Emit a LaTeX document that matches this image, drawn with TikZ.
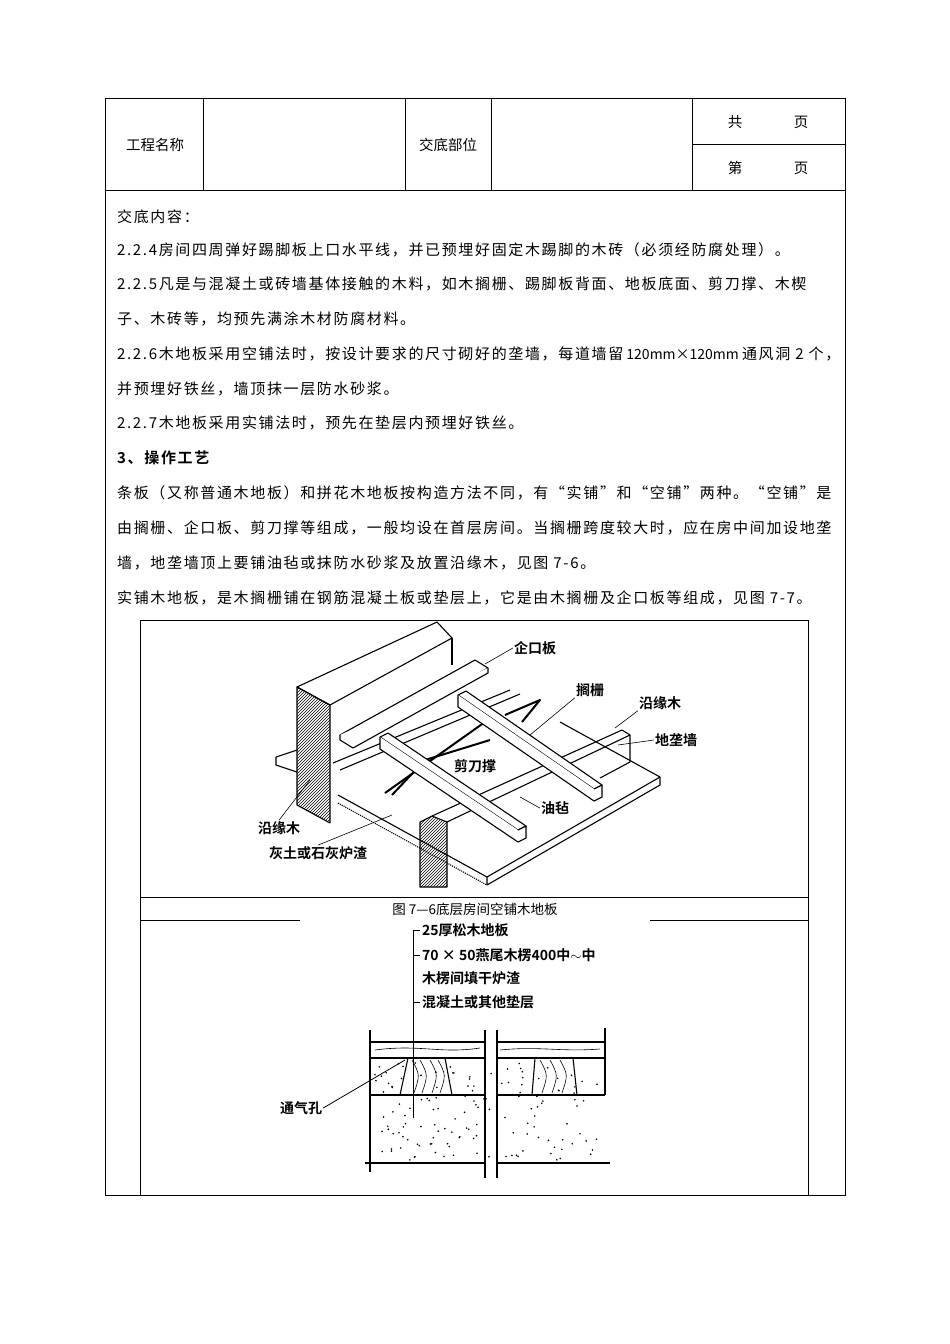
\documentclass[tikz,border=0pt]{standalone}
\usepackage{fontspec}
\setmainfont{Noto Sans CJK SC}
\newfontfamily\lbl{Noto Sans CJK SC Bold}
\newfontfamily\bodyf[LetterSpace=11]{Noto Sans CJK SC}
\newfontfamily\bodyb[LetterSpace=11]{Noto Sans CJK SC Bold}
\newfontfamily\plainf{Noto Sans CJK SC}
\usetikzlibrary{positioning, patterns}
\tikzstyle{rule} = [line width=0.8pt, black]
\tikzstyle{body} = [anchor=west, inner sep=0pt, font=\bodyf\fontsize{15}{15}\selectfont]
\tikzstyle{cell} = [inner sep=0pt, font=\fontsize{14.5}{14.5}\selectfont]
\tikzstyle{tag} = [inner sep=1pt, font=\lbl\fontsize{14}{14}\selectfont]
\tikzstyle{ink} = [line width=1.1pt, black, line join=round]

\begin{document}
\begin{tikzpicture}[x=1pt, y=-1pt]
    \useasboundingbox (0,0) rectangle (950,1344);

    % Table frame
    \draw [rule] (105,98) rectangle (845,1195);
    \draw [rule] (105,190) -- (845,190);
    \foreach \xx in {203,405,491,692}
        \draw [rule] (\xx,98) -- (\xx,190);
    \draw [rule] (692,144) -- (845,144);

    % Header cells
    \node (name) [cell] at (155,145) {工程名称};
    \node (part) [cell] at (448,145) {交底部位};
    \node (gong) [cell] at (735,122) {共};
    \node (gongye) [cell] at (801,122) {页};
    \node (di) [cell] at (735,168) {第};
    \node (diye) [cell] at (801,168) {页};

    % Body text
    \node (l0) [body] at (117,217) {交底内容：};
    \node (l1) [body] at (117,250) {2.2.4房间四周弹好踢脚板上口水平线，并已预埋好固定木踢脚的木砖（必须经防腐处理）。};
    \node (l2) [body] at (117,284) {2.2.5凡是与混凝土或砖墙基体接触的木料，如木搁栅、踢脚板背面、地板底面、剪刀撑、木楔};
    \node (l3) [body] at (117,319) {子、木砖等，均预先满涂木材防腐材料。};
    \node (l4) [body] at (117,354) {2.2.6木地板采用空铺法时，按设计要求的尺寸砌好的垄墙，每道墙留{\plainf\fontsize{14}{14}\selectfont\ 120mm×120mm }通风洞 2 个，};
    \node (l5) [body] at (117,389) {并预埋好铁丝，墙顶抹一层防水砂浆。};
    \node (l6) [body] at (117,423) {2.2.7木地板采用实铺法时，预先在垫层内预埋好铁丝。};
    \node (l7) [body, font=\bodyb\fontsize{15}{15}\selectfont] at (117,458) {3、操作工艺};
    \node (l8) [body] at (117,493) {条板（又称普通木地板）和拼花木地板按构造方法不同，有“实铺”和“空铺”两种。“空铺”是};
    \node (l9) [body] at (117,528) {由搁栅、企口板、剪刀撑等组成，一般均设在首层房间。当搁栅跨度较大时，应在房中间加设地垄};
    \node (l10) [body] at (117,563) {墙，地垄墙顶上要铺油毡或抹防水砂浆及放置沿缘木，见图 7-6。};
    \node (l11) [body] at (117,598) {实铺木地板，是木搁栅铺在钢筋混凝土板或垫层上，它是由木搁栅及企口板等组成，见图 7-7。};

    % Figure frame
    \draw [rule] (140,620) rectangle (808,1195);
    \draw [rule] (140,897) -- (808,897);
    \draw [rule] (140,920) -- (300,920);
    \draw [rule] (650,920) -- (808,920);
    \node (cap) [cell, font=\fontsize{13.5}{13.5}\selectfont] at (475,909) {图 7—6底层房间空铺木地板};

    % Fig 7-6: slab
    \draw [ink] (338,795) -- (487,877) -- (660,777) -- (560,722);
    \draw [ink] (487,877) -- (487,885) -- (660,785) -- (660,777);
    \draw [ink, densely dotted] (338,803) -- (487,885);
    % back wall
    \draw [ink] (297,687) -- (437,622) -- (452,638) -- (330,705) -- cycle;
    \draw [ink, pattern=north east lines] (297,687) -- (330,705) -- (330,823) -- (297,805) -- cycle;
    \draw [ink] (452,638) -- (452,665);
    \draw [ink] (276,757) -- (297,750);
    \draw [ink] (276,757) -- (276,765) -- (297,772);
    % front wall section
    \draw [ink, pattern=north east lines] (420,822) -- (432,816) -- (447,822) -- (447,887) -- (420,887) -- cycle;
    % sleeper walls
    \draw [ink] (432,816) -- (622,730) -- (630,735) -- (447,822);
    \draw [ink] (630,735) -- (630,762) -- (600,778);
    \draw [ink] (333,763) -- (510,690);
    \draw [ink] (340,770) -- (520,694);
    % scissor braces
    \draw [ink, line width=2pt] (385,793) -- (492,717);
    \draw [ink, line width=2pt] (392,795) -- (425,760) -- (490,740);
    \draw [ink, line width=2pt] (505,715) -- (540,700) -- (522,722);
    % joists
    \draw [ink, fill=white] (380,737) -- (388,733) -- (526,826) -- (518,830) -- cycle;
    \draw [ink, fill=white] (518,830) -- (526,826) -- (526,838) -- (518,842) -- (380,749) -- (380,737);
    \draw [ink, fill=white] (458,695) -- (466,691) -- (602,785) -- (594,789) -- cycle;
    \draw [ink, fill=white] (594,789) -- (602,785) -- (602,797) -- (594,801) -- (458,707) -- (458,695);
    % board
    \draw [ink, fill=white] (340,735) -- (475,660) -- (488,668) -- (353,743) -- cycle;
    \draw [ink, fill=white] (340,735) -- (340,740) -- (353,748) -- (488,673) -- (488,668);

    % Fig 7-6: labels
    \node (qkb) [tag] at (535,648) {企口板};
    \node (gs) [tag] at (590,690) {搁栅};
    \node (yyr) [tag] at (660,703) {沿缘木};
    \node (dlq) [tag] at (676,740) {地垄墙};
    \node (jdc) [tag] at (475,766) {剪刀撑};
    \node (yz) [tag] at (555,808) {油毡};
    \node (yyl) [tag] at (279,828) {沿缘木};
    \node (hts) [tag] at (318,853) {灰土或石灰炉渣};
    \draw [ink, line width=0.6pt] (qkb.west) -- (485,664);
    \draw [ink, line width=0.6pt] (gs.south west) -- (530,735);
    \draw [ink, line width=0.6pt] (yyr.south west) -- (615,728);
    \draw [ink, line width=0.6pt] (dlq.west) -- (618,745);
    \draw [ink, line width=0.6pt] (yz.west) -- (520,797);
    \draw [ink, line width=0.6pt] (yyl.north) -- (310,780);
    \draw [ink, line width=0.6pt] (hts.north) -- (392,815);

    % Fig 7-7: section
    \draw [ink] (370,1042) -- (485,1042) (497,1042) -- (605,1042);
    \draw [ink] (370,1058) -- (485,1058) (497,1058) -- (605,1058);
    \draw [ink] (370,1095) -- (485,1095) (497,1095) -- (605,1095);
    \draw [ink] (365,1163) -- (485,1163) (497,1163) -- (610,1163);
    \draw [ink] (370,1030) -- (370,1172);
    \draw [ink] (485,1030) -- (485,1178) (497,1030) -- (497,1178);
    \draw [ink] (605,1028) -- (605,1095);
    \draw [ink] (400,1095) -- (408,1058) (452,1095) -- (445,1058);
    \draw [ink] (532,1095) -- (535,1058) (577,1095) -- (573,1058);
    \foreach \xa in {412,420,430,438,540,550,560}
        \draw [ink, line width=0.6pt] (\xa,1060) .. controls (\xa+8,1075) .. (\xa+2,1093);
    \draw [ink, line width=0.6pt] (375,1050) .. controls (420,1044) and (440,1054) .. (480,1048);
    \draw [ink, line width=0.6pt] (500,1050) .. controls (540,1046) and (560,1052) .. (600,1049);
    \pgfmathsetseed{7}
    \foreach \i in {1,...,140} {
        \pgfmathsetmacro{\px}{375+rnd*225}
        \pgfmathsetmacro{\py}{1062+rnd*98}
        \fill (\px,\py) circle (0.9);
    }
    % leaders
    \draw [ink, line width=0.8pt] (413,930) -- (413,1118);
    \foreach \yy in {930,955,1002}
        \draw [ink, line width=0.8pt] (413,\yy) -- (420,\yy);
    \node (t1) [tag, anchor=west] at (421,930) {25厚松木地板};
    \node (t2) [tag, anchor=west] at (421,955) {70 × 50燕尾木楞400中$\sim$中};
    \node (t3) [tag, anchor=west] at (421,978) {木楞间填干炉渣};
    \node (t4) [tag, anchor=west] at (421,1002) {混凝土或其他垫层};
    \node (vent) [tag] at (301,1108) {通气孔};
    \draw [ink, line width=0.8pt] (vent.east) -- (405,1060);
\end{tikzpicture}
\end{document}
